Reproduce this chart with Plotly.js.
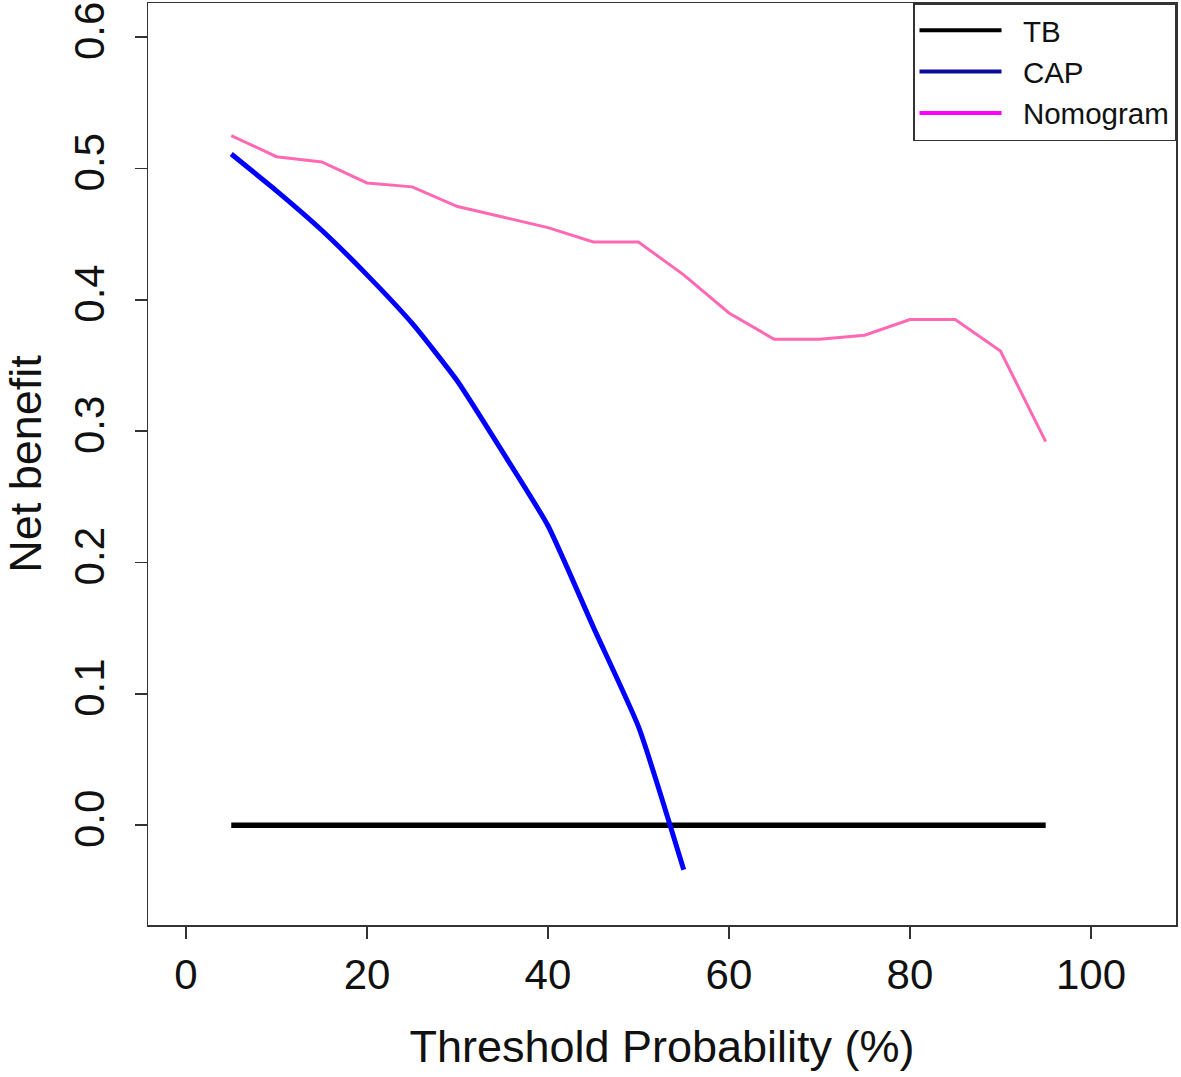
<!DOCTYPE html>
<html>
<head>
<meta charset="utf-8">
<script src="https://cdn.plot.ly/plotly-3.0.1.min.js"></script>
<style>html,body{margin:0;padding:0;background:#fff;}</style>
</head>
<body>
<div id="chart" style="width:1181px;height:1077px;"></div>
<script>
// Threshold probabilities (%)
var thresholds = [5,10,15,20,25,30,35,40,45,50,55,60,65,70,75,80,85,90,95];
// Treat-none reference line ("TB")
var tbValues = [0,0,0,0,0,0,0,0,0,0,0,0,0,0,0,0,0,0,0];
// CAP model
var capThresholds = [5,10,15,20,25,30,35,40,45,50,55];
var capValues = [0.511,0.483,0.453,0.419,0.382,0.338,0.284,0.228,0.151,0.075,-0.034];
// Nomogram model
var nomogramValues = [0.525,0.509,0.505,0.489,0.486,0.471,0.463,0.455,0.444,0.444,0.419,0.390,0.370,0.370,0.373,0.385,0.385,0.361,0.292];
// Legend labels
var seriesNames = ["TB","CAP","Nomogram"];
var xTicks = [0,20,40,60,80,100];
var yTicks = [0,0.1,0.2,0.3,0.4,0.5,0.6];
var yTickText = ["0.0","0.1","0.2","0.3","0.4","0.5","0.6"];

var font = "Liberation Sans, Arial, sans-serif";
var pad = "\u00a0\u00a0";

var traces = [
  {x: thresholds, y: tbValues, type: "scatter", mode: "lines", showlegend: false,
   line: {color: "#000000", width: 5.5}, hoverinfo: "skip"},
  {x: capThresholds, y: capValues, type: "scatter", mode: "lines", showlegend: false,
   line: {color: "#0000ff", width: 5, shape: "spline", smoothing: 0.5}, hoverinfo: "skip"},
  {x: thresholds, y: nomogramValues, type: "scatter", mode: "lines", showlegend: false,
   line: {color: "#ff69b4", width: 3}, hoverinfo: "skip"},
  // legend entries (R legend colours)
  {x: [null], y: [null], type: "scatter", mode: "lines", name: pad + seriesNames[0],
   line: {color: "#000000", width: 4}},
  {x: [null], y: [null], type: "scatter", mode: "lines", name: pad + seriesNames[1],
   line: {color: "#0c0c9c", width: 4}},
  {x: [null], y: [null], type: "scatter", mode: "lines", name: pad + seriesNames[2],
   line: {color: "#ff00ff", width: 4}}
];

var axisCommon = {
  showgrid: false, zeroline: false, showline: true, mirror: true,
  linecolor: "#333333", linewidth: 1.5,
  ticks: "outside", ticklen: 12, tickwidth: 1.5, tickcolor: "#333333",
  ticklabeloverflow: "allow",
  tickfont: {family: font, size: 42, color: "#111111"}
};

var layout = {
  width: 1181, height: 1077,
  margin: {l: 148, r: 5, t: 3, b: 152},
  paper_bgcolor: "#ffffff", plot_bgcolor: "#ffffff",
  font: {family: font, color: "#111111"},
  showlegend: true,
  hovermode: false,
  xaxis: Object.assign({}, axisCommon, {
    range: [-4.2, 109.4],
    tickmode: "array", tickvals: xTicks,
    ticklabelstandoff: 0,
    title: {text: "Threshold Probability (%)", font: {family: font, size: 45, color: "#111111"}, standoff: 33}
  }),
  yaxis: Object.assign({}, axisCommon, {
    range: [-0.076, 0.626],
    tickmode: "array", tickvals: yTicks, ticktext: yTickText,
    tickangle: -90,
    ticklabelstandoff: 14,
    title: {text: "Net benefit", font: {family: font, size: 45, color: "#111111"}, standoff: 45}
  }),
  legend: {
    x: 1, xanchor: "right", y: 1, yanchor: "top",
    bordercolor: "#333333", borderwidth: 1.5, bgcolor: "#ffffff",
    font: {family: font, size: 29.5, color: "#111111"},
    itemwidth: 82, tracegroupgap: 0
  }
};

Plotly.newPlot("chart", traces, layout, {displayModeBar: false, staticPlot: true});
</script>
</body>
</html>
